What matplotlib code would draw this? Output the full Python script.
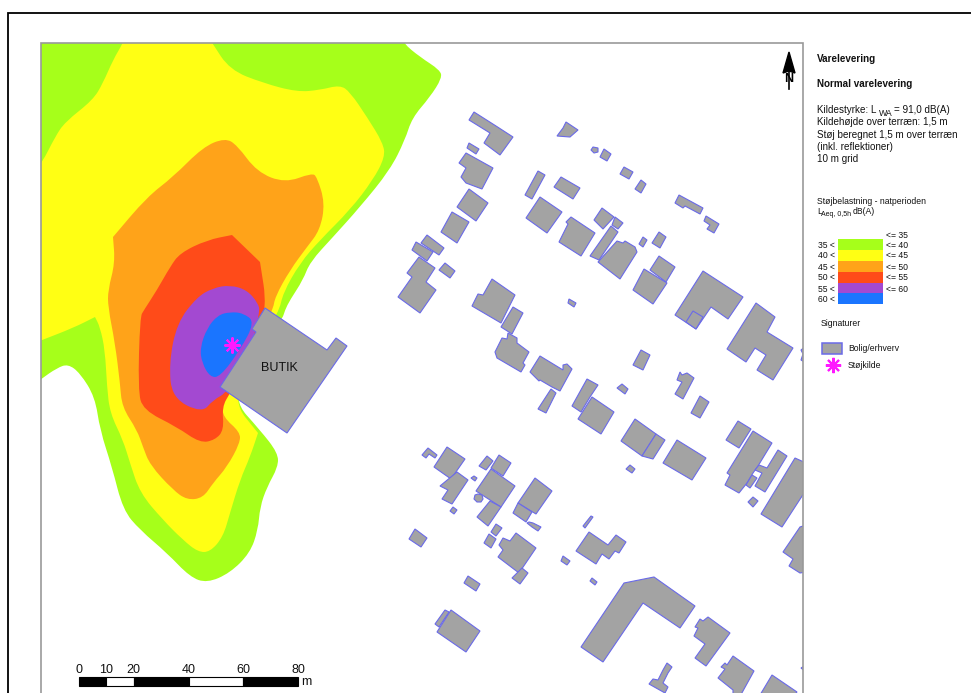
import matplotlib
matplotlib.use('Agg')
import matplotlib.pyplot as plt
from matplotlib.patches import PathPatch, Polygon, Rectangle
from matplotlib.path import Path

plt.rcParams['font.family'] = ['Liberation Sans', 'DejaVu Sans']

# everything in pixel coordinates of the map sheet
# a point written twice stays a sharp corner in the contour
contour_35 = [(25, 30), (25, 30), (398, 30), (398, 30), (403, 43), (420, 57), (440, 70), (442, 78), (430, 97), (412, 118), (405, 140),
              (390, 170), (360, 207), (333, 237), (310, 262), (303, 280), (290, 300), (285, 310), (282, 320),
              (250, 360), (233, 400), (260, 430), (278, 453), (278, 467), (267, 487), (260, 507), (258, 530),
              (250, 553), (230, 573), (207, 583), (190, 577), (167, 553), (140, 530), (123, 510), (112, 467),
              (100, 430), (95, 397), (80, 373), (68, 364), (57, 368), (41, 379), (25, 392), (25, 392)]
contour_40 = [(128, 30), (128, 30), (205, 30), (205, 30), (212, 43), (230, 70), (263, 83), (297, 92), (320, 90), (340, 85), (350, 92),
              (367, 117), (383, 143), (385, 157), (373, 180), (350, 210), (320, 240), (300, 263), (283, 293),
              (279, 312), (250, 360), (233, 402), (258, 433), (258, 433), (250, 457), (240, 480), (230, 513), (223, 537),
              (210, 552), (198, 552), (183, 540), (163, 520), (140, 493), (130, 463), (123, 440), (110, 413),
              (107, 387), (105, 350), (100, 327), (95, 317), (95, 317), (73, 328), (42, 340), (25, 347), (25, 347), (25, 185), (25, 185),
              (42, 163), (55, 137), (65, 122), (93, 100), (103, 83), (113, 60), (123, 43)]
contour_45 = [(113, 237), (113, 237), (147, 197), (173, 177), (203, 147), (225, 138), (237, 145), (257, 172), (285, 183),
              (312, 173), (317, 177), (325, 203), (320, 230), (307, 247), (290, 270), (275, 297), (273, 310),
              (250, 355), (227, 397), (222, 403), (223, 417), (240, 432), (240, 443), (227, 467), (213, 483),
              (203, 498), (187, 500), (173, 490), (150, 465), (143, 447), (137, 430), (122, 407), (120, 383),
              (115, 343), (108, 307), (108, 290), (115, 263)]
contour_50 = [(232, 235), (232, 235), (260, 262), (260, 262), (267, 307), (255, 350), (230, 393), (222, 407), (224, 430), (215, 440),
              (200, 443), (177, 427), (143, 410), (138, 390), (140, 317), (144, 310), (157, 290), (170, 267),
              (180, 253), (207, 240)]
contour_55 = [(230, 285), (247, 290), (258, 303), (260, 312), (250, 350), (228, 392), (213, 400), (202, 413),
              (172, 398), (169, 363), (177, 323), (197, 297), (213, 288)]
contour_60 = [(230, 312), (243, 313), (255, 322), (240, 350), (220, 377), (210, 377), (202, 363), (200, 348),
              (207, 328), (218, 315)]
contours = [contour_35, contour_40, contour_45, contour_50, contour_55, contour_60]

butik = [(265, 308), (327, 350), (336, 338), (347, 346), (287, 433), (220, 387), (256, 332), (252, 329)]

buildings = [
    [(474, 112), (496, 126), (513, 137), (500, 155), (484, 143), (490, 133), (469, 120)],
    [(469, 143), (479, 149), (476, 154), (467, 148)],
    [(466, 153), (493, 168), (482, 189), (466, 183), (461, 177), (466, 168), (459, 163)],
    [(469, 189), (488, 203), (476, 221), (457, 207)],
    [(452, 212), (469, 222), (457, 243), (441, 232)],
    [(427, 235), (444, 248), (439, 255), (421, 243)],
    [(416, 242), (433, 252), (427, 261), (412, 250)],
    [(419, 257), (435, 268), (426, 282), (436, 290), (420, 313), (398, 297), (412, 277), (407, 273)],
    [(445, 263), (455, 271), (450, 278), (439, 270)],
    [(492, 279), (515, 295), (509, 307), (501, 323), (472, 306), (478, 294), (483, 295)],
    [(513, 307), (523, 313), (512, 334), (501, 327)],
    [(566, 122), (578, 130), (570, 137), (557, 136), (563, 128)],
    [(593, 147), (598, 148), (598, 152), (594, 153), (591, 150)],
    [(604, 149), (611, 154), (607, 161), (600, 157)],
    [(624, 167), (633, 172), (629, 179), (620, 174)],
    [(641, 180), (646, 184), (641, 193), (635, 189)],
    [(679, 195), (703, 208), (700, 214), (685, 206), (683, 208), (675, 203)],
    [(706, 216), (719, 224), (714, 233), (707, 229), (710, 225), (704, 221)],
    [(538, 171), (545, 175), (532, 199), (525, 195)],
    [(561, 177), (580, 188), (573, 199), (554, 187)],
    [(540, 197), (562, 212), (547, 233), (526, 218)],
    [(571, 217), (595, 233), (581, 256), (559, 242), (568, 224), (566, 222)],
    [(602, 208), (614, 217), (603, 229), (594, 220)],
    [(615, 217), (623, 223), (618, 229), (612, 225)],
    [(611, 226), (618, 232), (599, 260), (590, 256)],
    [(617, 241), (623, 243), (625, 241), (635, 247), (637, 252), (620, 279), (598, 262)],
    [(643, 237), (647, 240), (643, 247), (639, 244)],
    [(659, 232), (666, 237), (660, 248), (652, 243)],
    [(659, 256), (675, 267), (666, 282), (650, 270)],
    [(644, 269), (667, 283), (653, 304), (633, 290)],
    [(703, 271), (743, 297), (728, 319), (711, 307), (696, 329), (675, 315)],
    [(693, 311), (703, 317), (696, 329), (686, 322)],
    [(756, 303), (775, 317), (767, 332), (793, 348), (773, 380), (757, 370), (766, 355), (755, 348), (746, 362), (727, 349)],
    [(806, 346), (801, 350), (803, 354), (801, 360), (806, 363)],
    [(495, 352), (502, 338), (507, 339), (508, 333), (517, 338), (517, 343), (529, 352), (523, 363), (525, 365), (521, 372), (497, 358)],
    [(540, 356), (563, 370), (563, 365), (567, 364), (572, 369), (560, 391), (552, 387), (540, 380), (539, 381), (530, 372)],
    [(551, 389), (556, 393), (546, 413), (538, 409)],
    [(587, 379), (598, 385), (590, 397), (581, 412), (572, 406)],
    [(592, 397), (614, 412), (601, 434), (578, 419)],
    [(622, 384), (628, 389), (625, 394), (617, 388)],
    [(641, 350), (650, 355), (643, 370), (633, 365)],
    [(680, 372), (682, 375), (687, 373), (694, 378), (683, 399), (675, 394), (682, 382), (677, 380)],
    [(700, 396), (709, 402), (700, 418), (691, 413)],
    [(635, 419), (656, 434), (642, 456), (621, 441)],
    [(656, 434), (665, 440), (653, 459), (642, 456)],
    [(677, 440), (706, 458), (692, 480), (663, 463)],
    [(630, 465), (635, 469), (632, 473), (626, 469)],
    [(738, 421), (751, 429), (739, 448), (726, 440)],
    [(753, 431), (772, 443), (758, 466), (753, 473), (747, 483), (739, 493), (725, 485), (730, 475), (727, 473)],
    [(778, 450), (787, 456), (765, 492), (755, 486), (762, 473), (755, 470), (759, 465), (767, 468)],
    [(752, 475), (757, 478), (750, 488), (746, 485)],
    [(753, 497), (758, 501), (753, 507), (748, 502)],
    [(795, 458), (806, 463), (806, 490), (782, 527), (761, 514)],
    [(800, 527), (806, 525), (806, 572), (800, 573), (789, 566), (793, 559), (783, 552)],
    [(428, 448), (437, 455), (435, 458), (429, 454), (426, 458), (422, 455)],
    [(447, 447), (465, 459), (451, 479), (434, 467)],
    [(457, 472), (468, 480), (452, 504), (442, 499), (448, 490), (440, 486)],
    [(474, 476), (477, 478), (475, 481), (471, 478)],
    [(487, 456), (493, 461), (486, 470), (479, 466)],
    [(499, 455), (511, 463), (503, 476), (491, 468)],
    [(491, 469), (515, 486), (501, 507), (476, 491)],
    [(478, 494), (482, 495), (483, 499), (481, 502), (477, 502), (474, 499), (475, 495)],
    [(490, 501), (501, 507), (488, 526), (477, 517)],
    [(535, 478), (552, 491), (536, 514), (518, 503)],
    [(518, 503), (532, 512), (526, 522), (513, 513)],
    [(533, 523), (541, 527), (538, 531), (532, 527), (527, 523), (529, 522)],
    [(453, 507), (457, 510), (454, 514), (450, 511)],
    [(496, 524), (502, 528), (496, 536), (491, 532)],
    [(489, 534), (496, 539), (491, 548), (484, 543)],
    [(415, 529), (427, 538), (421, 547), (409, 539)],
    [(516, 533), (536, 548), (519, 573), (498, 557), (503, 550), (499, 545), (503, 538), (510, 541)],
    [(522, 568), (528, 573), (520, 584), (512, 578)],
    [(468, 576), (480, 584), (476, 591), (464, 583)],
    [(445, 610), (449, 612), (439, 627), (435, 624)],
    [(451, 610), (480, 631), (466, 652), (437, 632)],
    [(563, 556), (570, 561), (567, 565), (561, 561)],
    [(592, 578), (597, 582), (595, 585), (590, 581)],
    [(591, 516), (593, 517), (585, 528), (583, 526)],
    [(589, 532), (608, 545), (616, 535), (626, 542), (619, 553), (615, 551), (609, 559), (602, 554), (596, 564), (576, 551)],
    [(624, 583), (654, 577), (695, 606), (680, 628), (643, 603), (603, 662), (581, 647)],
    [(708, 617), (730, 633), (706, 666), (695, 658), (705, 644), (694, 636), (698, 628), (695, 627), (700, 619), (703, 621)],
    [(733, 656), (754, 671), (738, 700), (733, 700), (733, 690), (718, 678), (725, 669), (721, 667), (725, 663), (727, 665)],
    [(772, 675), (797, 692), (790, 700), (757, 700)],
    [(667, 663), (672, 667), (668, 673), (663, 683), (668, 687), (665, 693), (649, 684), (653, 679), (658, 680), (663, 670)],
    [(801, 668), (806, 665), (806, 672)],
    [(569, 299), (576, 303), (574, 307), (568, 303)],
]

source_xy = (232, 345)
butik_xy = (279.5, 368)

level_colors = ['#A6FF1A', '#FFFF14', '#FFA319', '#FF4B19', '#A349D1', '#1A75FF']
low_labels = ['35 <', '40 <', '45 <', '50 <', '55 <', '60 <']
high_labels = ['<= 35', '<= 40', '<= 45', '<= 50', '<= 55', '<= 60']
info_lines = ['Kildehøjde over terræn: 1,5 m', 'Støj beregnet 1,5 m over terræn', '(inkl. reflektioner)', '10 m grid']
scale_ticks = [0, 10, 20, 40, 60, 80]

GRAY = '#A3A3A3'
EDGE = '#6A6AE8'
MAGENTA = '#FF19FF'
TEXT = '#111111'


def smooth_path(pts):
    """Closed path with the points as quadratic control points, so the contours come out round."""
    mid = lambda a, b: ((a[0] + b[0]) / 2, (a[1] + b[1]) / 2)
    verts = [mid(pts[-1], pts[0])]
    codes = [Path.MOVETO]
    for i, p in enumerate(pts):
        verts += [p, mid(p, pts[(i + 1) % len(pts)])]
        codes += [Path.CURVE3, Path.CURVE3]
    return Path(verts, codes)


fig = plt.figure(figsize=(9.71, 6.93), dpi=100)
ax = fig.add_axes([0, 0, 1, 1])
ax.set_xlim(0, 971)
ax.set_ylim(693, 0)
ax.axis('off')

frame = Rectangle((41, 43), 762, 660, transform=ax.transData)

for pts, color in zip(contours, level_colors):
    patch = PathPatch(smooth_path(pts), facecolor=color, edgecolor='none', zorder=2)
    ax.add_patch(patch)
    patch.set_clip_path(frame)

for pts in buildings + [butik]:
    patch = Polygon(pts, closed=True, facecolor=GRAY, edgecolor=EDGE, linewidth=0.8, zorder=3)
    ax.add_patch(patch)
    patch.set_clip_path(frame)

ax.plot(*source_xy, marker=(8, 2, 0), ms=11.5, mew=1.5, color=MAGENTA, zorder=4)
ax.text(*butik_xy, 'BUTIK', fontsize=9, color=TEXT, ha='center', va='center', zorder=4)

# sheet border and map frame
ax.plot([8, 8, 971], [693, 12.5, 12.5], color='black', lw=1.3, zorder=5, solid_joinstyle='miter')
ax.plot([41, 41, 803, 803], [693, 43, 43, 693], color='#999999', lw=1.2, zorder=5, solid_joinstyle='miter')

# north arrow
ax.plot([789, 789], [60, 89], color='black', lw=1.2, zorder=6)
ax.add_patch(Polygon([(789, 52), (795, 73), (789, 71), (783, 73)], closed=True, color='black', zorder=6))
ax.text(789, 79, 'N', fontsize=9, fontweight='bold', ha='center', va='center', color='black', zorder=6)

# title block
ax.text(817, 59, 'Varelevering', fontsize=7.15, fontweight='bold', color=TEXT, va='center')
ax.text(817, 84, 'Normal varelevering', fontsize=7.15, fontweight='bold', color=TEXT, va='center')
ax.text(817, 110, 'Kildestyrke: L', fontsize=7.15, color=TEXT, va='center')
ax.text(878.5, 113.5, 'WA', fontsize=6.3, color=TEXT, va='center')
ax.text(894, 110, '= 91,0 dB(A)', fontsize=7.15, color=TEXT, va='center')
for y, line in zip([122, 134.5, 147, 159], info_lines):
    ax.text(817, y, line, fontsize=7.15, color=TEXT, va='center')
ax.text(817, 201, 'Støjbelastning - natperioden', fontsize=6.25, color=TEXT, va='center')
ax.text(817, 212, 'L', fontsize=6.25, color=TEXT, va='center')
ax.text(821, 214.5, 'Aeq, 0,5h', fontsize=5, color=TEXT, va='center')
ax.text(853, 212, 'dB(A)', fontsize=6.25, color=TEXT, va='center')

# class legend
swatch_top = [239, 250, 261, 271.5, 282.5, 293]
for top, color in zip(swatch_top, level_colors):
    ax.add_patch(Rectangle((838, top), 45, 11, facecolor=color, edgecolor='none', zorder=4))
for y, label in zip([245, 256, 267, 278, 289, 299], low_labels):
    ax.text(818, y, label, fontsize=6.25, color=TEXT, va='center')
for y, label in zip([235, 245, 256, 267, 278, 289], high_labels):
    ax.text(886, y, label, fontsize=6.25, color=TEXT, va='center')

ax.text(821, 324, 'Signaturer', fontsize=6.25, color=TEXT, va='center')
ax.add_patch(Rectangle((822, 343), 20, 11, facecolor=GRAY, edgecolor=EDGE, linewidth=1.1, zorder=4))
ax.text(848, 348.5, 'Bolig/erhverv', fontsize=6.25, color=TEXT, va='center')
ax.plot(833, 365, marker=(8, 2, 0), ms=11, mew=1.5, color=MAGENTA, zorder=4)
ax.text(848, 365, 'Støjkilde', fontsize=6.25, color=TEXT, va='center')

# scale bar
bar_x0 = 79
px_per_m = 219 / 80
for i, (a, b) in enumerate(zip(scale_ticks[:-1], scale_ticks[1:])):
    ax.add_patch(Rectangle((bar_x0 + a * px_per_m, 677), (b - a) * px_per_m, 9,
                           facecolor='black' if i % 2 == 0 else 'white', edgecolor='black', linewidth=0.8, zorder=6))
for t in scale_ticks:
    ax.text(bar_x0 + t * px_per_m, 670, str(t), fontsize=9, color=TEXT, ha='center', va='center', zorder=6)
ax.text(306, 682, 'm', fontsize=9, color=TEXT, ha='center', va='center', zorder=6)

fig.savefig('out.png', dpi=100)
